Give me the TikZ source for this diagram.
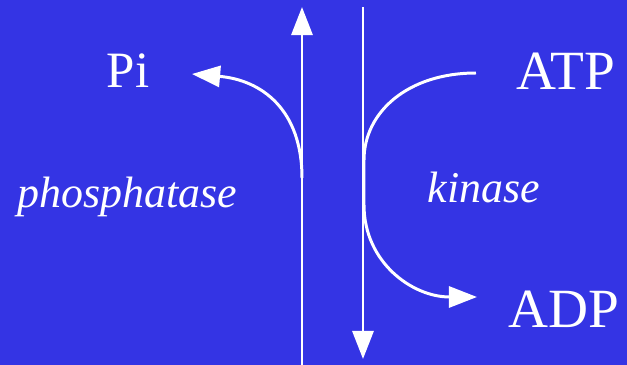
\documentclass[tikz,border=0pt]{standalone}
\usepackage{fontspec}
\setmainfont{Liberation Serif}
\usetikzlibrary{arrows.meta}
\definecolor{slideblue}{RGB}{52,52,228}
\tikzset{
  flow/.style={draw=white,line width=1.7pt,-{Triangle[length=16pt,width=12pt]}},
  molecule/.style={text=white,font=\fontsize{29}{30}\selectfont,anchor=base},
  bigmolecule/.style={molecule,font=\fontsize{31.5}{32}\selectfont},
  enzyme/.style={text=white,font=\fontsize{25}{26}\selectfont\itshape,anchor=base}
}
\begin{document}
\begin{tikzpicture}[x=0.02cm,y=-0.02cm]
\fill[slideblue] (0,0) rectangle (627,365);
\useasboundingbox (0,0) rectangle (627,365);

% labels
\node[molecule] (pi) at (128,88) {Pi};
\node[bigmolecule] (atp) at (566,90) {ATP};
\node[bigmolecule] (adp) at (564,328) {ADP};
\node[enzyme] (phos) at (127,208) {phosphatase};
\node[enzyme] (kin) at (484,203) {kinase};

% end points
\coordinate (upbot) at (302,365);
\coordinate (uptop) at (302,7);
\coordinate (downtop) at (363,7);
\coordinate (downbot) at (363,359);
\coordinate (pitip) at (192,74);
\coordinate (atpend) at (476,73);
\coordinate (adptip) at (477,297);

% two vertical arrows
\draw[flow] (upbot) -- (uptop);
\draw[flow] (downtop) -- (downbot);

% branches
\draw[flow] (302,178) .. controls (302,110) and (262,80) .. (pitip);
\draw[flow] (atpend) .. controls (408,73) and (364,112) .. (364,160)
  -- (364,205) .. controls (364,262) and (412,297) .. (adptip);
\end{tikzpicture}
\end{document}
